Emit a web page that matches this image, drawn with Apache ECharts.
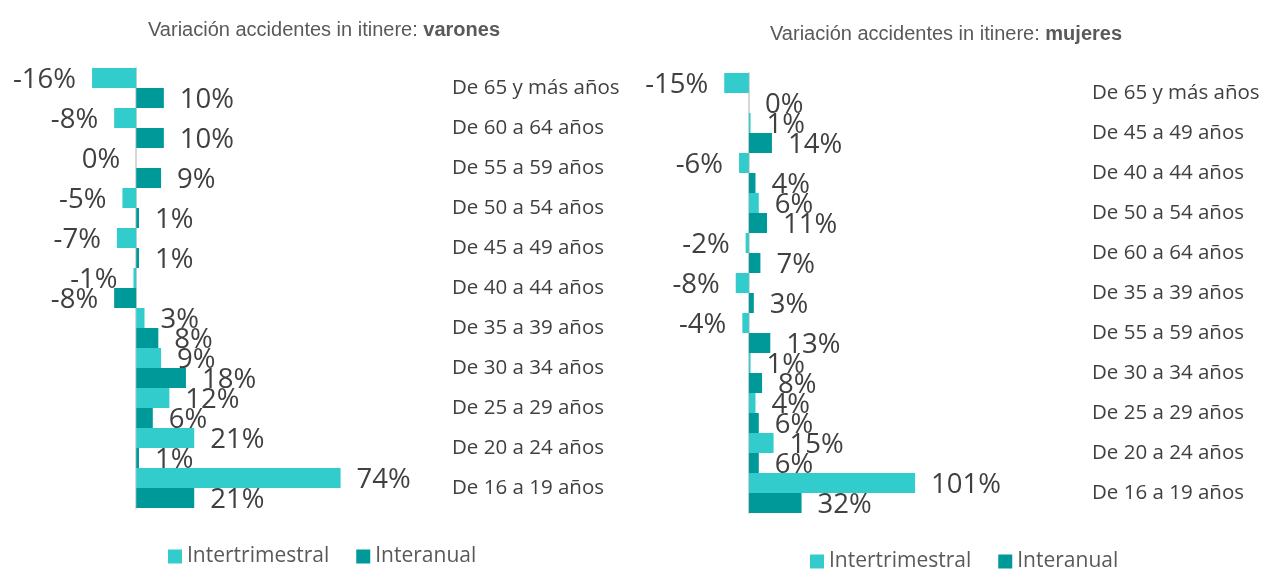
<!DOCTYPE html>
<html>
<head>
<meta charset="utf-8">
<title>Variación accidentes in itinere</title>
<script src="https://cdn.jsdelivr.net/npm/echarts@6/dist/echarts.min.js"></script>
<style>
  html, body { margin: 0; padding: 0; background: #ffffff; }
  #chart { width: 1278px; height: 570px; }
</style>
</head>
<body>
<div id="chart"></div>
<script>
// Age groups, top to bottom, for each panel
const varonesCategories = ['De 65 y más años', 'De 60 a 64 años', 'De 55 a 59 años', 'De 50 a 54 años',
  'De 45 a 49 años', 'De 40 a 44 años', 'De 35 a 39 años', 'De 30 a 34 años', 'De 25 a 29 años',
  'De 20 a 24 años', 'De 16 a 19 años'];
const mujeresCategories = ['De 65 y más años', 'De 45 a 49 años', 'De 40 a 44 años', 'De 50 a 54 años',
  'De 60 a 64 años', 'De 35 a 39 años', 'De 55 a 59 años', 'De 30 a 34 años', 'De 25 a 29 años',
  'De 20 a 24 años', 'De 16 a 19 años'];

// Percentage change (%)
const varonesIntertrimestral = [-16, -8, 0, -5, -7, -1, 3, 9, 12, 21, 74];
const varonesInteranual = [10, 10, 9, 1, 1, -8, 8, 18, 6, 1, 21];
const mujeresIntertrimestral = [-15, 1, -6, 6, -2, -8, -4, 1, 4, 15, 101];
const mujeresInteranual = [0, 14, 4, 11, 7, 3, 13, 8, 6, 6, 32];

const seriesNames = ['Intertrimestral', 'Interanual'];
const colors = ['#33CCCC', '#009999'];
const textDark = '#404040';
const textGrey = '#595959';

// Value labels sit at the outer end of each bar; zero values follow the panel's side
function barData(values, zeroSide) {
  return values.map(function (v) {
    const side = v > 0 ? 'right' : (v < 0 ? 'left' : zeroSide);
    return { value: v, label: { position: side } };
  });
}

function barSeries(name, values, gridIdx, colorIdx, zeroSide) {
  return {
    name: name,
    type: 'bar',
    xAxisIndex: gridIdx,
    yAxisIndex: gridIdx * 2,
    data: barData(values, zeroSide),
    barWidth: 20,
    barGap: '0%',
    barCategoryGap: '0%',
    itemStyle: { color: colors[colorIdx] },
    label: {
      show: true,
      distance: 16,
      offset: [0, 2],
      formatter: function (p) { return Math.round(p.value) + '%'; },
      color: textDark,
      fontFamily: 'Open Sans',
      fontSize: 27.5
    }
  };
}

function labelAxis(cats, gridIdx, margin) {
  return {
    type: 'category', gridIndex: gridIdx, data: cats, inverse: true, position: 'right',
    axisLine: { show: false, onZero: false }, axisTick: { show: false },
    axisLabel: { margin: margin, color: textDark, fontFamily: 'Open Sans', fontSize: 20.5 }
  };
}

function zeroLineAxis(cats, gridIdx) {
  return {
    type: 'category', gridIndex: gridIdx, data: cats, inverse: true, position: 'left',
    axisLine: { show: true, onZero: true, lineStyle: { color: '#d6d6d6', width: 2 } },
    axisTick: { show: false }, axisLabel: { show: false }
  };
}

function valueAxis(gridIdx, min, max) {
  return {
    type: 'value', gridIndex: gridIdx, min: min, max: max,
    axisLine: { show: false }, axisTick: { show: false },
    axisLabel: { show: false }, splitLine: { show: false }
  };
}

function legend(left, top) {
  return {
    left: left, top: top, data: seriesNames, icon: 'rect',
    itemWidth: 14, itemHeight: 14, itemGap: 27,
    textStyle: { color: textGrey, fontFamily: 'Open Sans', fontSize: 21 }
  };
}

function title(left, top, plain, bold) {
  return {
    left: left, top: top,
    text: plain + '{b|' + bold + '}',
    textStyle: {
      color: textGrey, fontFamily: 'Liberation Sans', fontSize: 20, fontWeight: 'normal',
      rich: { b: { color: textGrey, fontFamily: 'Liberation Sans', fontSize: 20, fontWeight: 'bold' } }
    }
  };
}

const chart = echarts.init(document.getElementById('chart'), null, { renderer: 'canvas' });

chart.setOption({
  animation: false,
  backgroundColor: '#ffffff',
  color: colors,
  title: [
    title(143, 15, 'Variación accidentes in itinere: ', 'varones'),
    title(765, 19, 'Variación accidentes in itinere: ', 'mujeres')
  ],
  legend: [legend(163, 541), legend(805, 546)],
  grid: [
    { left: 81, top: 68, width: 359, height: 440 },
    { left: 716, top: 73, width: 362, height: 440 }
  ],
  xAxis: [valueAxis(0, -20, 110), valueAxis(1, -20, 200)],
  yAxis: [
    labelAxis(varonesCategories, 0, 12),
    zeroLineAxis(varonesCategories, 0),
    labelAxis(mujeresCategories, 1, 14),
    zeroLineAxis(mujeresCategories, 1)
  ],
  series: [
    barSeries(seriesNames[0], varonesIntertrimestral, 0, 0, 'left'),
    barSeries(seriesNames[1], varonesInteranual, 0, 1, 'left'),
    barSeries(seriesNames[0], mujeresIntertrimestral, 1, 0, 'right'),
    barSeries(seriesNames[1], mujeresInteranual, 1, 1, 'right')
  ]
});
</script>
</body>
</html>
